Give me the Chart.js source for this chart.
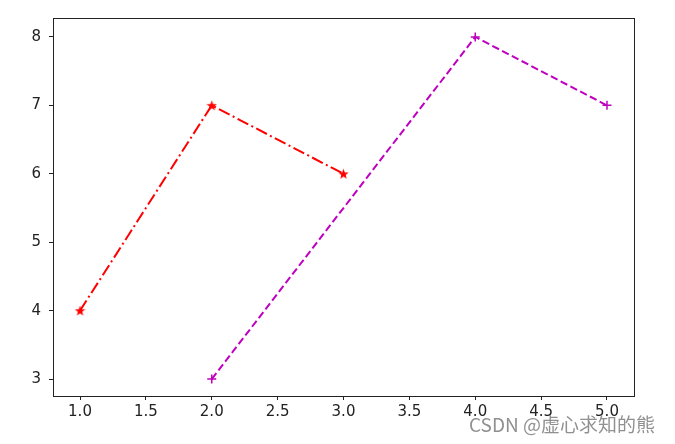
<!DOCTYPE html>
<html lang="en">
<head>
    <meta charset="UTF-8">
    <title>Line styles</title>
    <script src="https://cdn.jsdelivr.net/npm/chart.js"></script>
    <style>
        html, body {
            margin: 0;
            padding: 0;
            background: #fff;
        }

        .box {
            width: 675px;
            height: 444px;
        }
    </style>
</head>
<body>
    <div class="box">
        <canvas id="myChart" width="675" height="444"></canvas>
    </div>

    <script>
        // data
        const redX = [1, 2, 3];
        const redY = [4, 7, 6];
        const magX = [2, 4, 5];
        const magY = [3, 8, 7];

        const xTicks = [1.0, 1.5, 2.0, 2.5, 3.0, 3.5, 4.0, 4.5, 5.0];
        const yTicks = [3, 4, 5, 6, 7, 8];

        const watermark = 'CSDN @虚心求知的熊';

        // filled 5-point star like matplotlib's '*'
        function makeStar(size, color) {
            const c = document.createElement('canvas');
            c.width = size;
            c.height = size;
            const g = c.getContext('2d');
            const r = size / 2, ri = r * 0.42;
            g.beginPath();
            for (let i = 0; i < 10; i++) {
                const rad = i % 2 === 0 ? r : ri;
                const a = -Math.PI / 2 + i * Math.PI / 5;
                const px = r + rad * Math.cos(a);
                const py = r + rad * Math.sin(a) + 0.5;
                if (i === 0) g.moveTo(px, py); else g.lineTo(px, py);
            }
            g.closePath();
            g.fillStyle = color;
            g.fill();
            return c;
        }

        const frame = {
            id: 'frame',
            afterDraw(chart) {
                const { ctx, chartArea: a } = chart;
                ctx.save();
                ctx.strokeStyle = '#222';
                ctx.lineWidth = 1;
                ctx.strokeRect(a.left + 0.5, a.top + 0.5, a.right - a.left, a.bottom - a.top);
                ctx.font = '19px "Noto Sans CJK SC", sans-serif';
                ctx.fillStyle = 'rgba(125,125,125,0.85)';
                ctx.textBaseline = 'alphabetic';
                ctx.fillText(watermark, 469, 432);
                ctx.restore();
            }
        };

        const tickFont = { family: 'DejaVu Sans', size: 15 };

        const ctx = document.getElementById('myChart').getContext('2d');

        new Chart(ctx, {
            type: 'line',
            data: {
                datasets: [{
                    data: redX.map((x, i) => ({ x: x, y: redY[i] })),
                    borderColor: '#ff0000',
                    backgroundColor: '#ff0000',
                    borderWidth: 2,
                    borderDash: [12, 3.5, 2, 3.5],
                    pointStyle: makeStar(11, '#ff0000'),
                    pointRadius: 5
                }, {
                    data: magX.map((x, i) => ({ x: x, y: magY[i] })),
                    borderColor: '#bf00bf',
                    backgroundColor: '#bf00bf',
                    borderWidth: 2,
                    borderDash: [7.5, 3.5],
                    pointStyle: 'cross',
                    pointRadius: 4.5,
                    pointBorderWidth: 1.5
                }]
            },
            options: {
                responsive: false,
                animation: false,
                layout: {
                    padding: { top: 18, right: 41, left: 0, bottom: 0 }
                },
                plugins: {
                    legend: { display: false },
                    tooltip: { enabled: false }
                },
                scales: {
                    x: {
                        type: 'linear',
                        min: 0.795,
                        max: 5.205,
                        afterBuildTicks: s => { s.ticks = xTicks.map(v => ({ value: v })); },
                        afterFit: s => { s.height = 48; },
                        grid: { drawOnChartArea: false, tickLength: 4, color: '#222' },
                        border: { color: '#222' },
                        ticks: {
                            color: '#222',
                            font: tickFont,
                            padding: 3,
                            maxRotation: 0,
                            callback: v => v.toFixed(1)
                        }
                    },
                    y: {
                        min: 2.752,
                        max: 8.277,
                        afterBuildTicks: s => { s.ticks = yTicks.map(v => ({ value: v })); },
                        afterFit: s => { s.width = 53; },
                        grid: { drawOnChartArea: false, tickLength: 4, color: '#222' },
                        border: { color: '#222' },
                        ticks: {
                            color: '#222',
                            font: tickFont,
                            padding: 8,
                            callback: v => String(v)
                        }
                    }
                }
            },
            plugins: [frame]
        });
    </script>
</body>
</html>
